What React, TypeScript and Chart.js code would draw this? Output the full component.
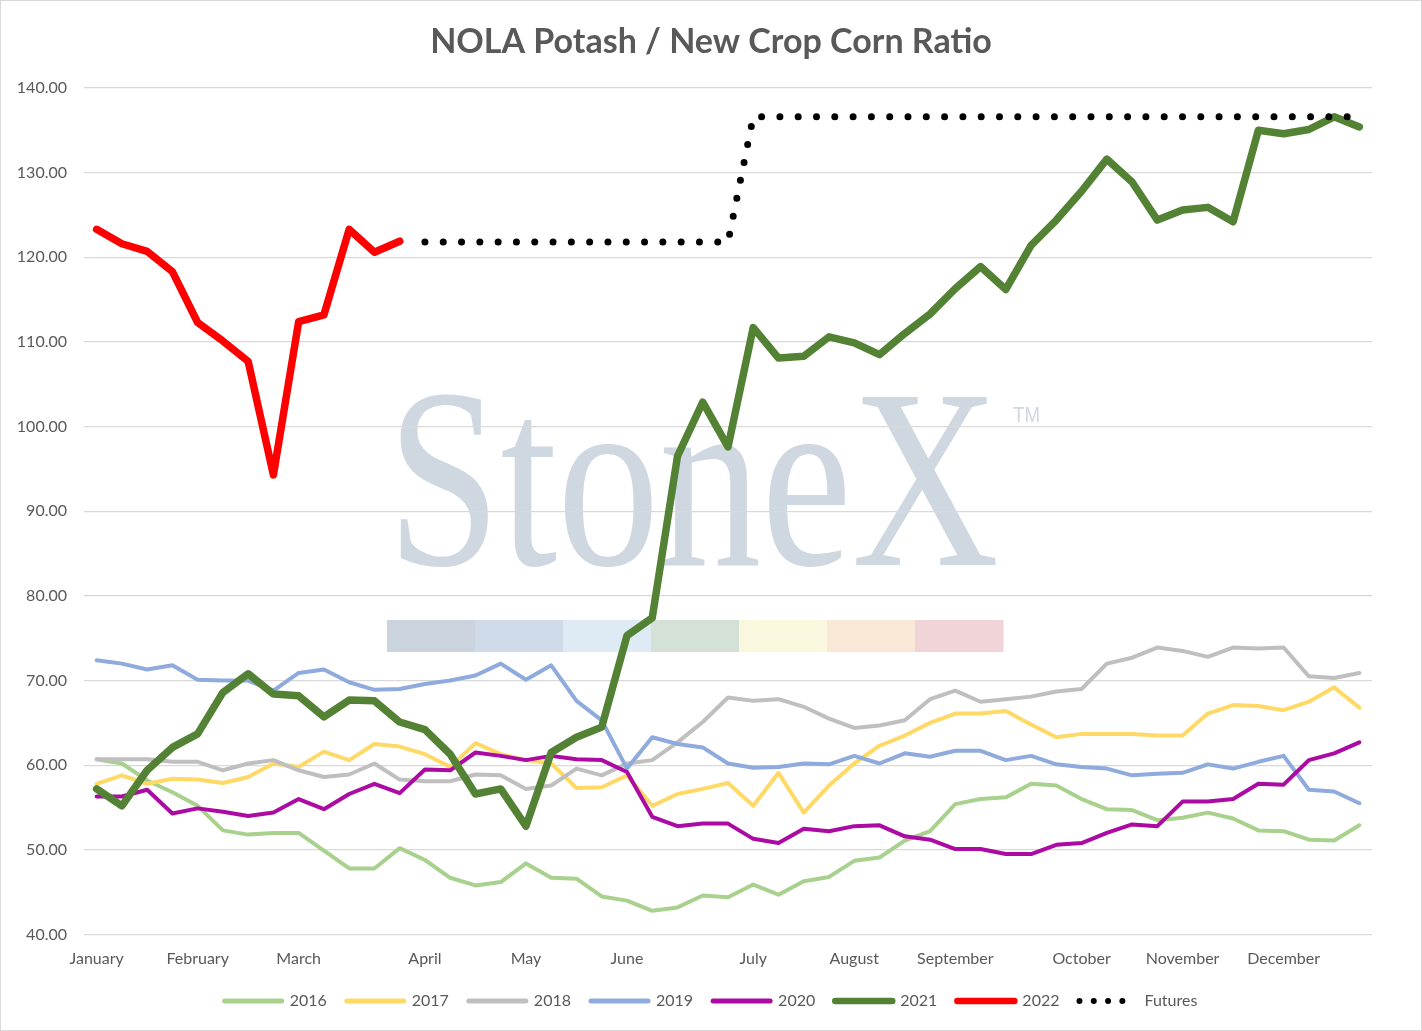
import React, { useEffect, useRef } from "react";
import { Chart, registerables } from "chart.js";

Chart.register(...registerables);

const monthLabels = ["January", "February", "March", "April", "May", "June", "July", "August", "September", "October", "November", "December"];
const monthWeek = [0, 4, 8, 13, 17, 21, 26, 30, 34, 39, 43, 47];
const weekCount = 51;
const categories: string[] = Array.from({ length: weekCount }, (_, i) => {
  const k = monthWeek.indexOf(i);
  return k >= 0 ? monthLabels[k] : "";
});

const yTicks = [40, 50, 60, 70, 80, 90, 100, 110, 120, 130, 140];

const s2016 = [60.7, 60.2, 58.2, 56.8, 55.2, 52.3, 51.8, 52.0, 52.0, 49.9, 47.8, 47.8, 50.2, 48.8, 46.7, 45.8, 46.2, 48.4, 46.7, 46.6, 44.5, 44.0, 42.8, 43.2, 44.6, 44.4, 45.9, 44.7, 46.3, 46.8, 48.7, 49.1, 51.1, 52.2, 55.4, 56.0, 56.2, 57.8, 57.6, 56.0, 54.8, 54.7, 53.5, 53.8, 54.4, 53.7, 52.3, 52.2, 51.2, 51.1, 52.9];
const s2017 = [57.8, 58.8, 57.8, 58.4, 58.3, 57.9, 58.6, 60.2, 59.8, 61.6, 60.6, 62.5, 62.2, 61.3, 59.8, 62.6, 61.3, 60.6, 60.2, 57.3, 57.4, 58.8, 55.2, 56.6, 57.2, 57.9, 55.2, 59.1, 54.4, 57.6, 60.2, 62.3, 63.5, 65.0, 66.1, 66.1, 66.4, 64.8, 63.3, 63.7, 63.7, 63.7, 63.5, 63.5, 66.1, 67.1, 67.0, 66.5, 67.5, 69.2, 66.8];
const s2018 = [60.7, 60.7, 60.7, 60.4, 60.4, 59.4, 60.2, 60.6, 59.4, 58.6, 58.9, 60.2, 58.3, 58.1, 58.1, 58.9, 58.8, 57.2, 57.6, 59.6, 58.8, 60.2, 60.6, 62.7, 65.1, 68.0, 67.6, 67.8, 66.9, 65.5, 64.4, 64.7, 65.3, 67.8, 68.8, 67.5, 67.8, 68.1, 68.7, 69.0, 72.0, 72.7, 73.9, 73.5, 72.8, 73.9, 73.8, 73.9, 70.5, 70.3, 70.9];
const s2019 = [72.4, 72.0, 71.3, 71.8, 70.1, 70.0, 70.0, 68.8, 70.9, 71.3, 69.8, 68.9, 69.0, 69.6, 70.0, 70.6, 72.0, 70.1, 71.8, 67.6, 65.3, 59.6, 63.3, 62.5, 62.1, 60.2, 59.7, 59.8, 60.2, 60.1, 61.1, 60.2, 61.4, 61.0, 61.7, 61.7, 60.6, 61.1, 60.1, 59.8, 59.6, 58.8, 59.0, 59.1, 60.1, 59.6, 60.4, 61.1, 57.1, 56.9, 55.5];
const s2020 = [56.3, 56.3, 57.1, 54.3, 54.9, 54.5, 54.0, 54.4, 56.0, 54.8, 56.6, 57.8, 56.7, 59.5, 59.4, 61.5, 61.1, 60.6, 61.1, 60.7, 60.6, 59.2, 53.9, 52.8, 53.1, 53.1, 51.3, 50.8, 52.5, 52.2, 52.8, 52.9, 51.6, 51.2, 50.1, 50.1, 49.5, 49.5, 50.6, 50.8, 52.0, 53.0, 52.8, 55.7, 55.7, 56.0, 57.8, 57.7, 60.6, 61.4, 62.7];
const s2021 = [57.2, 55.2, 59.4, 62.1, 63.7, 68.6, 70.8, 68.4, 68.2, 65.7, 67.7, 67.6, 65.1, 64.2, 61.3, 56.6, 57.2, 52.8, 61.5, 63.3, 64.5, 75.3, 77.4, 96.5, 102.9, 97.6, 111.7, 108.1, 108.3, 110.6, 109.9, 108.5, 111.0, 113.3, 116.3, 118.9, 116.2, 121.4, 124.4, 127.8, 131.6, 128.9, 124.4, 125.6, 125.9, 124.2, 135.0, 134.6, 135.1, 136.6, 135.4];
const s2022 = [123.3, 121.6, 120.7, 118.3, 112.3, 110.1, 107.7, 94.3, 112.4, 113.2, 123.3, 120.6, 121.9];
const sFutures = [null, null, null, null, null, null, null, null, null, null, null, null, null, 121.8, 121.8, 121.8, 121.8, 121.8, 121.8, 121.8, 121.8, 121.8, 121.8, 121.8, 121.8, 121.8, 136.6, 136.6, 136.6, 136.6, 136.6, 136.6, 136.6, 136.6, 136.6, 136.6, 136.6, 136.6, 136.6, 136.6, 136.6, 136.6, 136.6, 136.6, 136.6, 136.6, 136.6, 136.6, 136.6, 136.6, 136.6];

const seriesNames = ["2016", "2017", "2018", "2019", "2020", "2021", "2022", "Futures"];
const seriesColors = ["#a9d18e", "#ffd966", "#bfbfbf", "#8faadc", "#ab0aa3", "#548235", "#ff0000", "#000000"];
const seriesValues = [s2016, s2017, s2018, s2019, s2020, s2021, s2022, sFutures];
const seriesWidths = [4, 4, 4, 4, 4, 7.5, 7.5, 7];

const watermarkBars = ["rgb(203,211,222)", "rgb(207,219,233)", "rgb(222,234,244)", "rgb(211,225,215)", "rgb(249,247,222)", "rgb(250,232,214)", "rgb(240,212,216)"];

const watermarkPlugin = {
  id: "stonexWatermark",
  beforeDraw(chart: any) {
    const ctx = chart.ctx;
    ctx.save();
    ctx.fillStyle = "rgb(207,215,225)";
    ctx.font = "256px 'Liberation Serif'";
    ctx.textAlign = "left";
    ctx.textBaseline = "alphabetic";
    const w = ctx.measureText("StoneX").width;
    ctx.translate(386, 564);
    ctx.scale(612 / w, 1);
    ctx.fillText("StoneX", 0, 0);
    ctx.restore();

    ctx.save();
    ctx.fillStyle = "rgb(207,215,225)";
    ctx.font = "22px 'Liberation Sans'";
    const tw = ctx.measureText("TM").width;
    ctx.translate(1012, 415);
    ctx.scale(27 / tw, 1);
    ctx.fillText("TM", 0, 0);
    ctx.restore();

    ctx.save();
    const bw = 616 / watermarkBars.length;
    watermarkBars.forEach((c, i) => {
      ctx.fillStyle = c;
      ctx.fillRect(386 + i * bw, 619, bw + 0.5, 32);
    });
    ctx.restore();
  },
};

export default function App() {
  const ref = useRef<HTMLCanvasElement>(null);
  useEffect(() => {
    if (!ref.current) return;
    Chart.defaults.font.family = "Lato";
    const datasets = seriesNames.map((name, i) => ({
      label: name,
      data: seriesValues[i],
      borderColor: seriesColors[i],
      backgroundColor: seriesColors[i],
      borderWidth: seriesWidths[i],
      pointRadius: 0,
      pointHoverRadius: 0,
      tension: 0,
      fill: false,
      spanGaps: false,
      yAxisID: "y",
      borderJoinStyle: "round" as const,
      borderCapStyle: "round" as const,
      borderDash: name === "Futures" ? [0, 18.3] : [],
      order: seriesNames.length - i,
    }));
    const chart = new Chart(ref.current, {
      type: "line",
      data: { labels: categories, datasets },
      options: {
        animation: false,
        responsive: false,
        maintainAspectRatio: false,
        layout: { padding: { left: 0, right: 0, top: 0, bottom: 11 } },
        plugins: {
          title: {
            display: true,
            text: "NOLA Potash / New Crop Corn Ratio",
            color: "#595959",
            font: { size: 34, weight: "bold", family: "Lato" },
            padding: { top: 21, bottom: 25.2 },
          },
          legend: {
            display: true,
            position: "bottom",
            labels: {
              usePointStyle: true,
              pointStyleWidth: 57,
              boxHeight: 6,
              padding: 20,
              color: "#595959",
              font: { size: 16, family: "Lato" },
              generateLabels: (c: any) =>
                c.data.datasets.map((ds: any, i: number) => ({
                  text: ds.label,
                  fillStyle: ds.borderColor,
                  strokeStyle: ds.borderColor,
                  lineWidth: ds.label === "Futures" ? 6 : i >= 5 ? 6.5 : 5,
                  lineDash: ds.label === "Futures" ? [0, 14.3] : [],
                  lineCap: "round",
                  pointStyle: "line",
                  hidden: false,
                  datasetIndex: i,
                  fontColor: "#595959",
                })),
            },
          },
          tooltip: { enabled: false },
        },
        scales: {
          x: {
            type: "category",
            offset: true,
            grid: { display: false, drawTicks: false },
            border: { display: false },
            ticks: {
              autoSkip: false,
              maxRotation: 0,
              minRotation: 0,
              color: "#595959",
              font: { size: 16, family: "Lato" },
              padding: 14.5,
            },
            afterFit: (s: any) => {
              s.height = 38.5;
            },
          },
          y: {
            position: "left",
            min: 40,
            max: 140,
            afterBuildTicks: (s: any) => {
              s.ticks = yTicks.map((v) => ({ value: v }));
            },
            grid: { color: "#d9d9d9", lineWidth: 1.3, drawTicks: false },
            border: { display: false },
            ticks: {
              color: "#595959",
              font: { size: 16, family: "Lato" },
              padding: 17,
              callback: (v: any) => Number(v).toFixed(2),
            },
            afterFit: (s: any) => {
              s.width = 83;
            },
          },
          yRight: {
            position: "right",
            min: 40,
            max: 140,
            display: true,
            grid: { display: false, drawTicks: false },
            border: { display: false },
            ticks: { display: false },
            afterFit: (s: any) => {
              s.width = 49;
            },
          },
        },
      },
      plugins: [watermarkPlugin],
    });
    return () => chart.destroy();
  }, []);
  return (
    <div
      style={{
        position: "fixed",
        left: 0,
        top: 0,
        width: 1422,
        height: 1031,
        boxSizing: "border-box",
        border: "1px solid #d9d9d9",
        background: "#ffffff",
      }}
    >
      <canvas ref={ref} width={1420} height={1029} style={{ display: "block" }} />
    </div>
  );
}
